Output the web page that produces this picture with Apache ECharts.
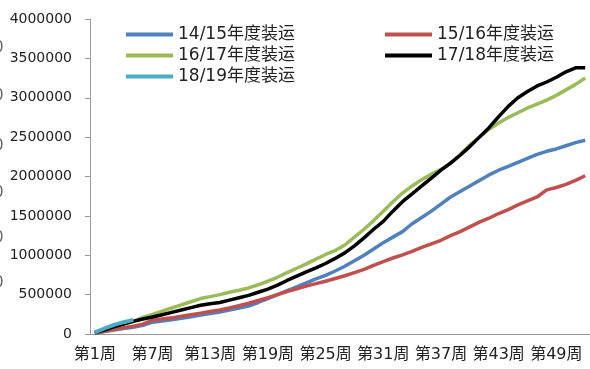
<!DOCTYPE html>
<html><head><meta charset="utf-8">
<script src="https://cdn.jsdelivr.net/npm/echarts@6/dist/echarts.min.js"></script>
<style>html,body{margin:0;padding:0;background:#fff}#c{width:590px;height:369px}</style>
</head><body><div id="c"></div>
<script>
const weeks = [];
for (let i = 1; i <= 52; i++) weeks.push('第' + i + '周');
const yTicks = [0, 500000, 1000000, 1500000, 2000000, 2500000, 3000000, 3500000, 4000000];
const names = ['14/15年度装运', '15/16年度装运', '16/17年度装运', '17/18年度装运', '18/19年度装运'];
// values in thousands of tonnes
const s1415 = [10,30,50,70,85,110,150,165,180,200,220,240,260,280,305,330,355,400,450,500,550,600,650,700,745,800,860,930,1000,1080,1160,1230,1300,1400,1480,1560,1650,1740,1810,1880,1950,2020,2080,2130,2180,2230,2280,2320,2350,2390,2430,2460];
const s1516 = [10,35,60,80,100,125,175,190,205,225,245,265,285,305,330,360,390,425,460,500,540,575,610,640,670,705,740,780,820,870,920,965,1005,1050,1100,1145,1190,1250,1300,1360,1420,1470,1530,1580,1640,1690,1740,1830,1860,1900,1950,2010];
const s1617 = [15,50,90,125,160,210,250,290,330,370,410,450,475,500,530,555,585,625,670,720,780,835,890,950,1010,1060,1130,1230,1330,1440,1560,1680,1790,1880,1960,2030,2090,2170,2280,2400,2500,2600,2680,2750,2810,2870,2920,2970,3030,3100,3170,3250];
const s1718 = [15,50,90,125,160,190,215,245,275,305,335,365,385,400,430,460,490,530,570,620,680,735,790,840,895,960,1030,1120,1220,1330,1430,1560,1680,1780,1880,1980,2080,2170,2270,2380,2500,2620,2760,2890,3000,3080,3150,3200,3260,3330,3380,3380];
const s1819 = [20,70,115,150,180];
const colors = ['#4F81BD', '#C0504D', '#9BBB59', '#000000', '#4BACC6'];
const seriesData = [s1415, s1516, s1617, s1718, s1819];

const chart = echarts.init(document.getElementById('c'), null, {renderer: 'canvas'});
const font = 'DejaVu Sans, Noto Sans CJK SC, sans-serif';
const leftZeros = [50, 98, 148, 195, 240, 285].map(y => ({
  type: 'text', left: -6, top: y - 9, style: {text: '0', font: '15px ' + font, fill: '#666'}
}));
const legendText = {fontSize: 17, fontFamily: font, color: '#222'};
chart.setOption({
  animation: false,
  backgroundColor: '#fff',
  grid: {left: 90, right: 0, top: 19, bottom: 35, containLabel: false},
  legend: [
    {data: [names[0], names[2], names[4]], orient: 'vertical', left: 121, top: 21, itemWidth: 47, itemHeight: 4, itemGap: 4, icon: 'rect', textStyle: legendText},
    {data: [names[1], names[3]], orient: 'vertical', left: 380, top: 21, itemWidth: 47, itemHeight: 4, itemGap: 4, icon: 'rect', textStyle: legendText}
  ],
  xAxis: {
    type: 'category', data: weeks, boundaryGap: true,
    axisLine: {lineStyle: {color: '#9a9a9a', width: 1}},
    axisTick: {interval: 0, length: 5, lineStyle: {color: '#9a9a9a'}},
    axisLabel: {interval: 5, fontSize: 16, fontFamily: font, color: '#222', margin: 13}
  },
  yAxis: {
    type: 'value', min: yTicks[0], max: yTicks[yTicks.length - 1], interval: yTicks[1] - yTicks[0],
    axisLine: {show: true, lineStyle: {color: '#9a9a9a', width: 1}},
    axisTick: {show: true, length: 5, lineStyle: {color: '#9a9a9a'}},
    splitLine: {show: false},
    axisLabel: {fontSize: 14, fontFamily: font, color: '#222', margin: 18, formatter: v => String(v)}
  },
  graphic: leftZeros,
  series: seriesData.map((d, i) => ({
    name: names[i], type: 'line', data: d.map(v => v * 1000), showSymbol: false, symbol: 'none',
    lineStyle: {color: colors[i], width: i === 4 ? 4 : 3.5}, itemStyle: {color: colors[i]}, z: i === 4 ? 6 : (i === 3 ? 4 : 3)
  }))
});
</script></body></html>
